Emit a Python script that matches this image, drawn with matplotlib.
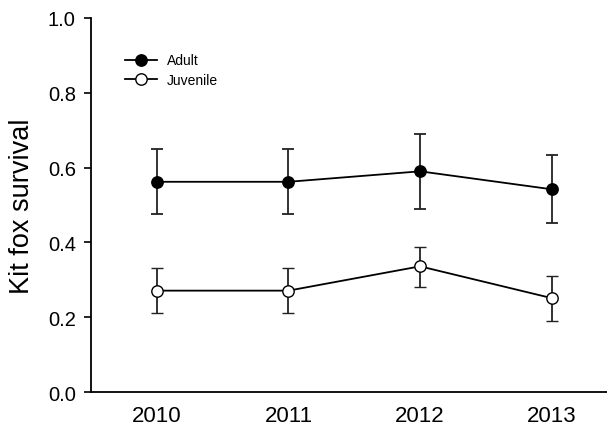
import numpy as np
import matplotlib.pyplot as plt

plt.rcParams['font.family'] = ['Liberation Sans', 'DejaVu Sans']

years = [2010, 2011, 2012, 2013]
year_labels = ["2010", "2011", "2012", "2013"]

adult = [0.562, 0.562, 0.590, 0.542]
adult_lo = [0.475, 0.475, 0.490, 0.453]
adult_hi = [0.651, 0.651, 0.690, 0.633]

juv = [0.271, 0.271, 0.336, 0.251]
juv_lo = [0.212, 0.212, 0.281, 0.190]
juv_hi = [0.331, 0.331, 0.389, 0.311]

fig = plt.figure(figsize=(6.07, 4.27), dpi=100)
ax = fig.add_axes([0.150, 0.0796, 0.85, 0.876])

def err(v, lo, hi):
    v = np.array(v)
    return [v - np.array(lo), np.array(hi) - v]

ax.errorbar(years, adult, yerr=err(adult, adult_lo, adult_hi), color="black",
            lw=1.3, marker="o", ms=8.2, mfc="black", mec="black",
            ecolor="#222222", elinewidth=1.3, capsize=4.5, capthick=1.3,
            label="Adult")
ax.errorbar(years, juv, yerr=err(juv, juv_lo, juv_hi), color="black",
            lw=1.3, marker="o", ms=8.2, mfc="white", mec="black", mew=1.0,
            ecolor="#222222", elinewidth=1.3, capsize=4.5, capthick=1.3,
            label="Juvenile")

ax.set_xlim(2009.5, 2013.42)
ax.set_ylim(0, 1.0)
ax.set_yticks([0.0, 0.2, 0.4, 0.6, 0.8, 1.0])
ax.set_yticklabels(["0.0", "0.2", "0.4", "0.6", "0.8", "1.0"], fontsize=14.5)
ax.set_xticks(years)
ax.set_xticklabels(year_labels, fontsize=16)
ax.tick_params(axis="x", length=0, pad=9)
ax.tick_params(axis="y", length=5, width=1.2, pad=6)
ax.spines["top"].set_visible(False)
ax.spines["right"].set_visible(False)
ax.spines["left"].set_linewidth(1.3)
ax.spines["bottom"].set_linewidth(1.3)
ax.spines["bottom"].set_clip_on(False)
ax.set_ylabel("Kit fox survival", fontsize=19.5, labelpad=9)

h, l = ax.get_legend_handles_labels()
h = [x[0] for x in h]
ax.legend(h, l, loc="upper left", bbox_to_anchor=(0.066, 0.905), frameon=False,
          fontsize=10, borderpad=0, borderaxespad=0, handlelength=2.3,
          handletextpad=0.7, labelspacing=0.37)

fig.savefig("out.png", dpi=100)
